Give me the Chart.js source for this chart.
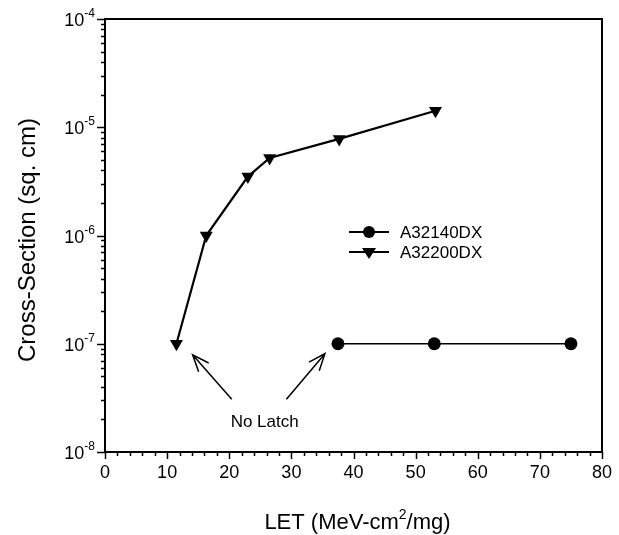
<!DOCTYPE html>
<html>
<head>
<meta charset="utf-8">
<script src="https://cdn.jsdelivr.net/npm/chart.js@4.4.0/dist/chart.umd.min.js"></script>
<style>
  html, body { margin: 0; padding: 0; background: #fff; }
  canvas { display: block; }
</style>
</head>
<body>
<canvas id="chart" width="619" height="535"></canvas>
<script>
// LET values (MeV-cm2/mg) and latch-up cross sections (sq. cm)
var letA32140 = [37.5, 53, 75];
var csA32140 = [1e-7, 1e-7, 1e-7];
var letA32200 = [11.5, 16.3, 23, 26.5, 37.7, 53.2];
var csA32200 = [1e-7, 1e-6, 3.5e-6, 5.2e-6, 7.8e-6, 1.42e-5];

var xTickLabels = [0, 10, 20, 30, 40, 50, 60, 70, 80];
var yDecades = [-8, -7, -6, -5, -4];

// "No Latch" callout, in data units: [tailX, tailY, headX, headY]
var noLatchArrows = [[20.4, 3.07e-8, 14.1, 7.9e-8], [29.2, 3.07e-8, 35.4, 8.1e-8]];
var noLatchText = { x: 25.7, y: 1.9e-8, text: "No Latch" };

var FONT = "'Liberation Sans', Arial, sans-serif";

function toPoints(xs, ys) {
  return xs.map(function (x, i) { return { x: x, y: ys[i] }; });
}

var framePlugin = {
  id: 'frame',
  beforeDatasetsDraw: function (chart) {
    var ctx = chart.ctx, a = chart.chartArea;
    var xs = chart.scales.x, ys = chart.scales.y;
    ctx.save();
    ctx.strokeStyle = '#000';
    ctx.lineWidth = 2;
    ctx.strokeRect(a.left, a.top, a.right - a.left, a.bottom - a.top);

    // x ticks: minor every 2, major every 10
    ctx.lineWidth = 1.5;
    for (var v = 0; v <= 80; v += 2) {
      var px = Math.round(xs.getPixelForValue(v)) + 0.5;
      var len = (v % 10 === 0) ? 7 : 4;
      ctx.beginPath();
      ctx.moveTo(px, a.bottom);
      ctx.lineTo(px, a.bottom + len);
      ctx.stroke();
    }
    // y ticks: decades and 2..9 minors
    yDecades.forEach(function (d) {
      var py = Math.round(ys.getPixelForValue(Math.pow(10, d))) + 0.5;
      ctx.beginPath();
      ctx.moveTo(a.left - 8, py);
      ctx.lineTo(a.left, py);
      ctx.stroke();
      if (d < -4) {
        for (var m = 2; m <= 9; m++) {
          var pm = Math.round(ys.getPixelForValue(m * Math.pow(10, d))) + 0.5;
          ctx.beginPath();
          ctx.moveTo(a.left - 4, pm);
          ctx.lineTo(a.left, pm);
          ctx.stroke();
        }
      }
    });

    // tick labels
    ctx.fillStyle = '#000';
    ctx.font = '18px ' + FONT;
    ctx.textAlign = 'center';
    ctx.textBaseline = 'top';
    xTickLabels.forEach(function (v) {
      ctx.fillText(String(v), xs.getPixelForValue(v), a.bottom + 12);
    });
    yDecades.forEach(function (d) {
      var py = ys.getPixelForValue(Math.pow(10, d));
      var exp = String(d);
      ctx.font = '12px ' + FONT;
      var ew = ctx.measureText(exp).width;
      var ex = a.left - 10 - ew;
      ctx.textAlign = 'left';
      ctx.textBaseline = 'alphabetic';
      ctx.fillText(exp, ex, py - 2);
      ctx.font = '18px ' + FONT;
      ctx.textAlign = 'right';
      ctx.fillText('10', ex, py + 7);
    });

    // axis titles
    ctx.textAlign = 'left';
    ctx.textBaseline = 'alphabetic';
    var t1 = 'LET (MeV-cm', t2 = '2', t3 = '/mg)';
    ctx.font = '22px ' + FONT;
    var w1 = ctx.measureText(t1).width, w3 = ctx.measureText(t3).width;
    ctx.font = '14px ' + FONT;
    var w2 = ctx.measureText(t2).width;
    var cx = (a.left + a.right) / 2 + 4;
    var sx = cx - (w1 + w2 + w3) / 2, by = 529;
    ctx.font = '22px ' + FONT;
    ctx.fillText(t1, sx, by);
    ctx.font = '14px ' + FONT;
    ctx.fillText(t2, sx + w1, by - 10);
    ctx.font = '22px ' + FONT;
    ctx.fillText(t3, sx + w1 + w2, by);

    ctx.translate(28, 240);
    ctx.rotate(-Math.PI / 2);
    ctx.textAlign = 'center';
    ctx.textBaseline = 'middle';
    ctx.font = '24px ' + FONT;
    ctx.fillText('Cross-Section (sq. cm)', 0, 0);
    ctx.restore();
  },
  afterDraw: function (chart) {
    var ctx = chart.ctx, a = chart.chartArea;
    var xs = chart.scales.x, ys = chart.scales.y;
    ctx.save();
    ctx.strokeStyle = '#000';
    ctx.fillStyle = '#000';

    // legend inside the plot
    var lx = a.left + 244, ly = a.top + 213;
    chart.data.datasets.forEach(function (ds, i) {
      var y = ly + i * 20;
      ctx.lineWidth = 2;
      ctx.beginPath();
      ctx.moveTo(lx, y);
      ctx.lineTo(lx + 40, y);
      ctx.stroke();
      ctx.beginPath();
      if (ds.pointStyle === 'circle') {
        ctx.arc(lx + 20, y, 6, 0, Math.PI * 2);
      } else {
        ctx.moveTo(lx + 13, y - 4);
        ctx.lineTo(lx + 27, y - 4);
        ctx.lineTo(lx + 20, y + 7);
        ctx.closePath();
      }
      ctx.fill();
      ctx.font = '17px ' + FONT;
      ctx.textAlign = 'left';
      ctx.textBaseline = 'middle';
      ctx.fillText(ds.label, lx + 51, y + 1);
    });

    // open-headed arrows and label
    ctx.lineWidth = 1.5;
    noLatchArrows.forEach(function (ar) {
      var x0 = xs.getPixelForValue(ar[0]), y0 = ys.getPixelForValue(ar[1]);
      var x1 = xs.getPixelForValue(ar[2]), y1 = ys.getPixelForValue(ar[3]);
      var ang = Math.atan2(y1 - y0, x1 - x0), h = 18, spread = 0.38;
      ctx.beginPath();
      ctx.moveTo(x0, y0);
      ctx.lineTo(x1, y1);
      ctx.moveTo(x1 - h * Math.cos(ang - spread), y1 - h * Math.sin(ang - spread));
      ctx.lineTo(x1, y1);
      ctx.lineTo(x1 - h * Math.cos(ang + spread), y1 - h * Math.sin(ang + spread));
      ctx.stroke();
    });
    ctx.font = '17px ' + FONT;
    ctx.textAlign = 'center';
    ctx.textBaseline = 'middle';
    ctx.fillText(noLatchText.text, xs.getPixelForValue(noLatchText.x), ys.getPixelForValue(noLatchText.y));
    ctx.restore();
  }
};

new Chart(document.getElementById('chart'), {
  type: 'scatter',
  data: {
    datasets: [{
      label: 'A32140DX',
      data: toPoints(letA32140, csA32140),
      showLine: true,
      borderColor: '#000',
      backgroundColor: '#000',
      borderWidth: 1.5,
      pointStyle: 'circle',
      pointRadius: 6.5,
      pointBorderWidth: 0
    }, {
      label: 'A32200DX',
      data: toPoints(letA32200, csA32200),
      showLine: true,
      borderColor: '#000',
      backgroundColor: '#000',
      borderWidth: 2.2,
      pointStyle: 'triangle',
      rotation: 180,
      pointRadius: 7.5,
      pointBorderWidth: 0
    }]
  },
  options: {
    responsive: false,
    animation: false,
    layout: { padding: { left: 97, right: 17, top: 19, bottom: 75 } },
    plugins: { legend: { display: false }, tooltip: { enabled: false } },
    scales: {
      x: {
        type: 'linear', min: 0, max: 80,
        grid: { display: false }, border: { display: false },
        ticks: { display: false }
      },
      y: {
        type: 'logarithmic', min: 1e-8, max: 1e-4,
        grid: { display: false }, border: { display: false },
        ticks: { display: false }
      }
    }
  },
  plugins: [framePlugin]
});
</script>
</body>
</html>
